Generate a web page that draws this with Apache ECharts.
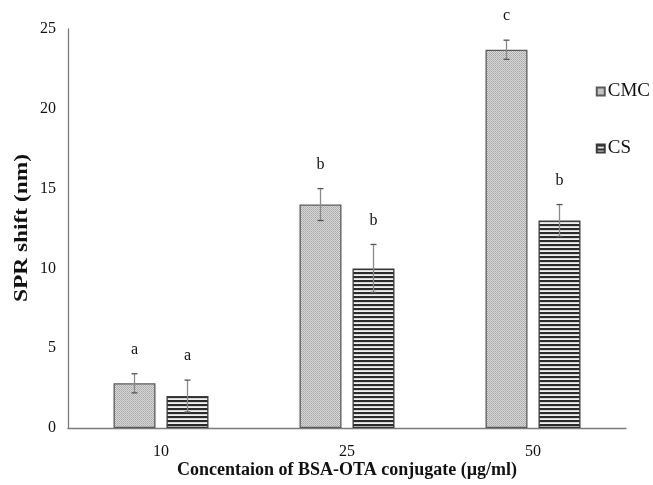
<!DOCTYPE html>
<html>
<head>
<meta charset="utf-8">
<script src="https://cdn.jsdelivr.net/npm/echarts@6/dist/echarts.min.js"></script>
<style>
html,body{margin:0;padding:0;background:#fff;}
#chart{width:653px;height:485px;}
</style>
</head>
<body>
<div id="chart"></div>
<script>
// Concentration groups and measured SPR shifts
var categories = ['10', '25', '50'];
var cmcValues = [2.8, 14.0, 23.7];
var cmcErrors = [0.6, 1.0, 0.6];
var csValues = [2.0, 10.0, 13.0];
var csErrors = [1.0, 1.5, 1.0];
var cmcLetters = ['a', 'b', 'c'];
var csLetters = ['a', 'b', 'b'];
var yTicks = [0, 5, 10, 15, 20, 25];
var yTitle = 'SPR shift (nm)';
var xTitle = 'Concentaion of BSA-OTA conjugate (\u00b5g/ml)';

var FONT = '"Liberation Serif", "Times New Roman", serif';
var BAR_W = 42, BAR_GAP = 11;
var HALF = (BAR_W + BAR_GAP) / 2;

function makePattern(rows, w) {
  var c = document.createElement('canvas');
  c.width = w; c.height = rows.length;
  var ctx = c.getContext('2d');
  rows.forEach(function (r, y) {
    for (var x = 0; x < w; x++) {
      ctx.fillStyle = Array.isArray(r) ? r[x % r.length] : r;
      ctx.fillRect(x, y, 1, 1);
    }
  });
  return c;
}
// fine dotted grey texture
var dotted = makePattern([
  ['#b4b4b4', '#d8d8d8'],
  ['#d8d8d8', '#a8a8a8']
], 2);
// horizontal stripes
var striped = makePattern(['#2b2b2b', '#2b2b2b', '#d6d6d6', '#f0f0f0'], 4);

function errorSeries(name, values, errors, letters, side) {
  var data = values.map(function (v, i) { return [i, v, errors[i], letters[i]]; });
  return {
    type: 'custom',
    name: name + '-err',
    z: 5,
    data: data,
    renderItem: function (params, api) {
      var i = api.value(0), v = api.value(1), e = api.value(2);
      var top = api.coord([i, v + e]);
      var bot = api.coord([i, v - e]);
      var x = top[0] + side * HALF;
      var cap = 3;
      return {
        type: 'group',
        children: [
          { type: 'line', shape: { x1: x, y1: top[1], x2: x, y2: bot[1] }, style: { stroke: '#8a8a8a', lineWidth: 1.3 } },
          { type: 'line', shape: { x1: x - cap, y1: top[1], x2: x + cap, y2: top[1] }, style: { stroke: '#555', lineWidth: 1.3 } },
          { type: 'line', shape: { x1: x - cap, y1: bot[1], x2: x + cap, y2: bot[1] }, style: { stroke: '#555', lineWidth: 1.3 } },
          { type: 'text', style: { text: letters[i], x: x, y: top[1] - 24, textAlign: 'center', textVerticalAlign: 'middle', font: '16px ' + FONT, fill: '#111' } }
        ]
      };
    }
  };
}

var chart = echarts.init(document.getElementById('chart'));
chart.setOption({
  animation: false,
  backgroundColor: '#fff',
  grid: { left: 68, right: 27, top: 29, bottom: 57, containLabel: false, outerBoundsMode: 'none' },
  legend: {
    orient: 'vertical',
    right: -2,
    top: 77,
    itemGap: 38,
    itemWidth: 8,
    itemHeight: 8,
    icon: 'rect',
    data: ['CMC', 'CS'],
    textStyle: { fontFamily: FONT, fontSize: 19, color: '#111', padding: [0, 0, 0, -2] }
  },
  // vertical axis title, drawn slightly elongated along its baseline
  graphic: [{
    type: 'text',
    x: 22,
    y: 228,
    rotation: Math.PI / 2,
    scaleX: 1.3,
    style: {
      text: yTitle,
      font: 'bold 18px ' + FONT,
      fill: '#111',
      align: 'center',
      verticalAlign: 'middle'
    }
  }],
  xAxis: {
    type: 'category',
    data: categories,
    axisTick: { show: false },
    axisLine: { lineStyle: { color: '#7a7a7a', width: 1.3 } },
    axisLabel: { fontFamily: FONT, fontSize: 16, color: '#111', margin: 16 },
    name: xTitle,
    nameLocation: 'middle',
    nameGap: 33,
    nameMoveOverlap: false,
    nameTextStyle: { fontFamily: FONT, fontSize: 18, fontWeight: 'bold', color: '#111' }
  },
  yAxis: {
    type: 'value',
    min: yTicks[0],
    max: yTicks[yTicks.length - 1],
    interval: 5,
    splitLine: { show: false },
    axisTick: { show: false },
    axisLine: { show: true, lineStyle: { color: '#7a7a7a', width: 1.3 } },
    axisLabel: { fontFamily: FONT, fontSize: 16, color: '#111', margin: 12 }
  },
  series: [
    {
      name: 'CMC', type: 'bar', data: cmcValues, barWidth: BAR_W, barGap: (BAR_GAP / BAR_W * 100) + '%',
      itemStyle: { color: { image: dotted, repeat: 'repeat' }, borderColor: '#5a5a5a', borderWidth: 1.3 }
    },
    {
      name: 'CS', type: 'bar', data: csValues, barWidth: BAR_W,
      itemStyle: { color: { image: striped, repeat: 'repeat' }, borderColor: '#3a3a3a', borderWidth: 1.3 }
    },
    errorSeries('CMC', cmcValues, cmcErrors, cmcLetters, -1),
    errorSeries('CS', csValues, csErrors, csLetters, 1)
  ]
});
</script>
</body>
</html>
